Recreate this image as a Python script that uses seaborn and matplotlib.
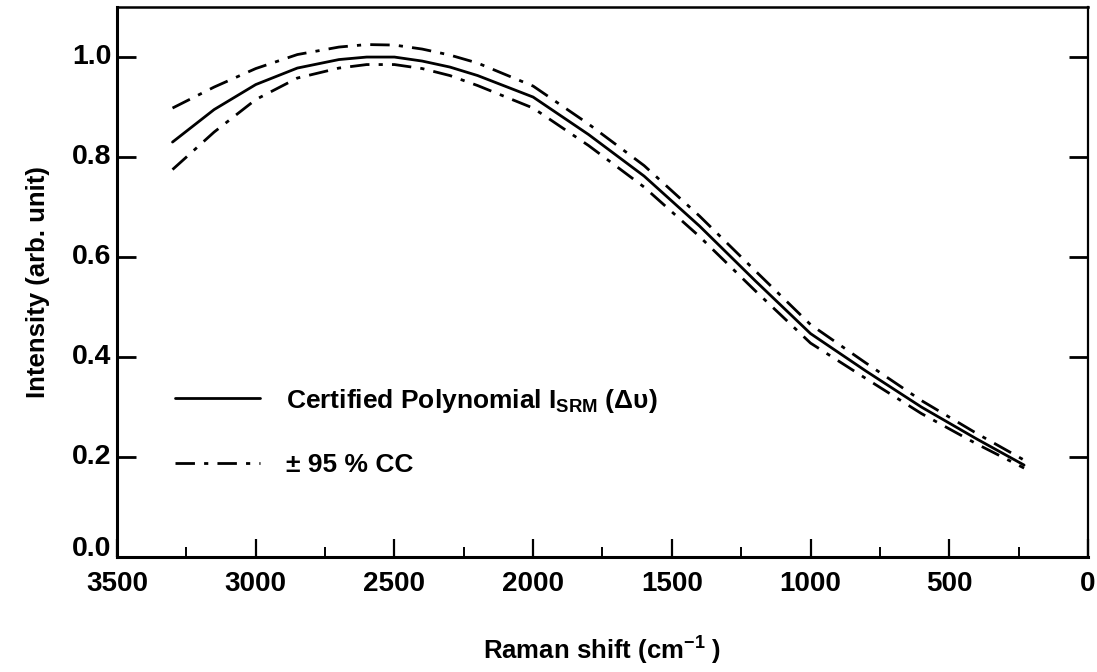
import matplotlib
matplotlib.use("Agg")
import matplotlib.pyplot as plt
import matplotlib.transforms as mtransforms
import seaborn as sns
import pandas as pd
from matplotlib.ticker import MultipleLocator, FixedLocator

# ---- data ----
shift = [3300, 3150, 3000, 2850, 2700, 2600, 2500, 2400, 2300, 2200, 2000, 1800,
         1600, 1400, 1200, 1000, 800, 600, 400, 230]
certified = [0.83, 0.895, 0.945, 0.978, 0.995, 1.0, 1.0, 0.992, 0.980, 0.963, 0.92, 0.845,
             0.762, 0.662, 0.553, 0.447, 0.372, 0.300, 0.236, 0.184]
upper_cc = [0.898, 0.940, 0.977, 1.005, 1.020, 1.025, 1.024, 1.016, 1.004, 0.988, 0.942, 0.866,
            0.783, 0.682, 0.573, 0.465, 0.388, 0.313, 0.247, 0.194]
lower_cc = [0.775, 0.850, 0.915, 0.958, 0.978, 0.985, 0.985, 0.977, 0.963, 0.943, 0.898, 0.823,
            0.740, 0.641, 0.533, 0.428, 0.357, 0.287, 0.226, 0.178]

xticks = [3500, 3000, 2500, 2000, 1500, 1000, 500, 0]
yticks = [0.0, 0.2, 0.4, 0.6, 0.8, 1.0]
label_cert = r"Certified Polynomial I$_{\mathrm{SRM}}$ (Δυ)"
label_cc = "± 95 % CC"

df = pd.DataFrame({"shift": shift, "cert": certified, "up": upper_cc, "lo": lower_cc})

sns.set_theme(style="ticks")
plt.rcParams["font.family"] = ["Liberation Sans", "DejaVu Sans"]
plt.rcParams["font.weight"] = "bold"
plt.rcParams["text.color"] = "black"
plt.rcParams["axes.labelcolor"] = "black"
plt.rcParams["xtick.color"] = "black"
plt.rcParams["ytick.color"] = "black"
plt.rcParams["mathtext.fontset"] = "custom"
plt.rcParams["mathtext.rm"] = "Liberation Sans:bold"
plt.rcParams["mathtext.it"] = "Liberation Sans:bold"
plt.rcParams["mathtext.bf"] = "Liberation Sans:bold"

fig = plt.figure(figsize=(10.97, 6.72), dpi=100)
ax = fig.add_axes([0.1067, 0.171, 0.885, 0.8185])

dd = (0, (7, 3.3, 1.5, 3.3))
sns.lineplot(data=df, x="shift", y="cert", ax=ax, color="black", lw=2.0,
             sort=False, label=label_cert)
sns.lineplot(data=df, x="shift", y="up", ax=ax, color="black", lw=2.0,
             sort=False, linestyle=dd, label=label_cc)
sns.lineplot(data=df, x="shift", y="lo", ax=ax, color="black", lw=2.0,
             sort=False, linestyle=dd, label="_nolegend_")

ax.set_xlim(3500, 0)
ax.set_ylim(0, 1.1)
ax.xaxis.set_major_locator(FixedLocator(xticks))
ax.xaxis.set_minor_locator(MultipleLocator(250))
ax.yaxis.set_major_locator(FixedLocator(yticks))
ax.set_xticklabels([str(t) for t in xticks])
ax.set_yticklabels([f"{t:.1f}" for t in yticks])

ax.tick_params(axis="x", which="major", direction="in", length=13, width=1.6,
               labelsize=20, pad=10, colors="black", top=False)
ax.tick_params(axis="x", which="minor", direction="in", length=7, width=1.4, top=False)
ax.tick_params(axis="y", which="major", direction="in", length=14, width=2.0,
               labelsize=20.5, pad=4, colors="black", right=True)
for lab in ax.get_xticklabels() + ax.get_yticklabels():
    lab.set_fontweight("bold")

# lift the y tick labels slightly (the "0.0" more) as in the reference
ylabs = ax.get_yticklabels()
for i, lab in enumerate(ylabs):
    dy = 8 if i == 0 else 2
    lab.set_transform(lab.get_transform() +
                      mtransforms.ScaledTranslation(0, dy / 72, fig.dpi_scale_trans))

for side, w in [("left", 2.2), ("bottom", 2.2), ("top", 1.8), ("right", 1.6)]:
    ax.spines[side].set_visible(True)
    ax.spines[side].set_linewidth(w)
    ax.spines[side].set_color("black")

ax.set_xlabel("Raman shift (cm$^{-1}$ )", fontsize=18.5, fontweight="bold", labelpad=27)
ax.set_ylabel("Intensity (arb. unit)", fontsize=18.5, fontweight="bold", labelpad=16)

leg = ax.legend(loc="upper left", bbox_to_anchor=(0.06, 0.31), frameon=False,
                fontsize=19, handlelength=3.2, handletextpad=1.0,
                labelspacing=1.45, borderpad=0, borderaxespad=0)
for t in leg.get_texts():
    t.set_fontweight("bold")
    t.set_color("black")

fig.savefig("out.png", dpi=100)
